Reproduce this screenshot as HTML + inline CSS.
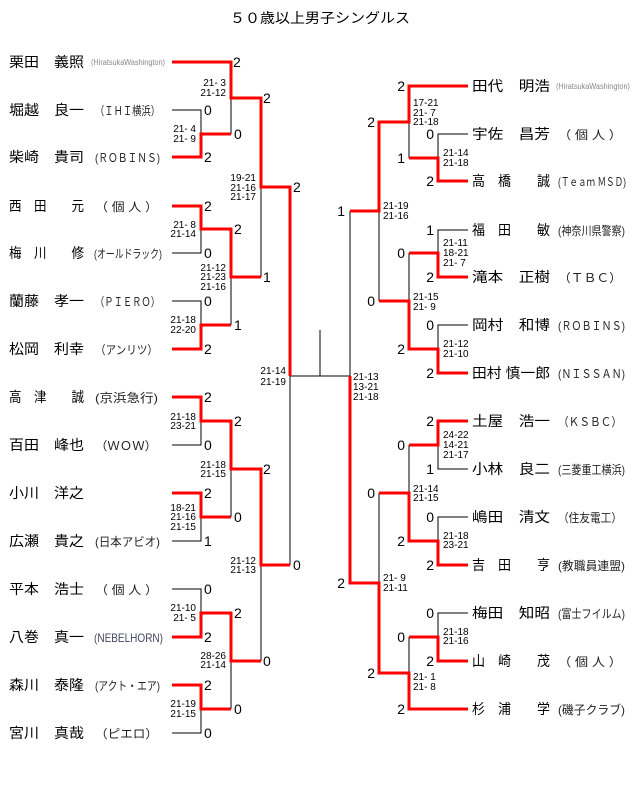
<!DOCTYPE html>
<html><head><meta charset="utf-8"><style>
html,body{margin:0;padding:0;background:#fff}
svg{display:block}
text{font-family:"Liberation Sans","Noto Sans CJK JP",sans-serif}
.n{font-size:14px;fill:#000}
.t{font-size:12px;fill:#222}
.s{font-size:10px;fill:#000}
.d{font-size:14px;fill:#000}
</style></head><body>
<svg width="640" height="793" viewBox="0 0 640 793" xmlns="http://www.w3.org/2000/svg">
<text x="230" y="23" class="n" textLength="180" lengthAdjust="spacingAndGlyphs">５０歳以上男子シングルス</text>

<g stroke="#000" stroke-width="1" fill="none">
<path d="M172 110H201V157 M172 253H201V206 M172 301H201V349 M172 445H201V397 M172 541H201V493 M172 589H201V637 M172 733H201V685"/>
<path d="M231 98V134 M231 229V325 M231 421V517 M231 613V709"/>
<path d="M261 187V277 M261 469V661"/>
<path d="M290 376V565 M290 376H350 M320 376V330"/>
<path d="M468 134H438V181 M468 230H438V277 M468 325H438V373 M468 469H438V421 M468 517H438V565 M468 613H438V661"/>
<path d="M409 122V158 M409 253V301 M409 445V493 M409 637V673"/>
<path d="M379 211V301 M379 493V583"/>
<path d="M350 211V376"/>
</g>

<g stroke="#f00" stroke-width="3" fill="none">
<path d="M172 62H231V98H261V187H290V376"/>
<path d="M172 157H201V134H231"/>
<path d="M172 206H201V229H231V277H261"/>
<path d="M172 349H201V325H231"/>
<path d="M172 397H201V421H231V469H261V565H290"/>
<path d="M172 493H201V517H231"/>
<path d="M172 637H201V613H231V661H261"/>
<path d="M172 685H201V709H231"/>
<path d="M468 86H409V122H379V211H350"/>
<path d="M468 181H438V158H409"/>
<path d="M468 277H438V253H409"/>
<path d="M468 373H438V349H409V301H379"/>
<path d="M468 421H438V445H409"/>
<path d="M468 565H438V541H409V493H379"/>
<path d="M468 661H438V637H409"/>
<path d="M468 709H409V673H379V583H350V376"/>
</g>

<g class="n">
<text x="9" y="67" textLength="75" lengthAdjust="spacingAndGlyphs">栗田　義照</text>
<text x="9" y="115" textLength="75" lengthAdjust="spacingAndGlyphs">堀越　良一</text>
<text x="9" y="162" textLength="75" lengthAdjust="spacingAndGlyphs">柴崎　貴司</text>
<text x="9" y="211" textLength="75" lengthAdjust="spacingAndGlyphs">西　田　　元</text>
<text x="9" y="258" textLength="75" lengthAdjust="spacingAndGlyphs">梅　川　　修</text>
<text x="9" y="306" textLength="75" lengthAdjust="spacingAndGlyphs">蘭藤　孝一</text>
<text x="9" y="354" textLength="75" lengthAdjust="spacingAndGlyphs">松岡　利幸</text>
<text x="9" y="402" textLength="75" lengthAdjust="spacingAndGlyphs">高　津　　誠</text>
<text x="9" y="450" textLength="75" lengthAdjust="spacingAndGlyphs">百田　峰也</text>
<text x="9" y="498" textLength="75" lengthAdjust="spacingAndGlyphs">小川　洋之</text>
<text x="9" y="546" textLength="75" lengthAdjust="spacingAndGlyphs">広瀬　貴之</text>
<text x="9" y="594" textLength="75" lengthAdjust="spacingAndGlyphs">平本　浩士</text>
<text x="9" y="642" textLength="75" lengthAdjust="spacingAndGlyphs">八巻　真一</text>
<text x="9" y="690" textLength="75" lengthAdjust="spacingAndGlyphs">森川　泰隆</text>
<text x="9" y="738" textLength="75" lengthAdjust="spacingAndGlyphs">宮川　真哉</text>
</g>
<g class="t">
<text x="91" y="65" style="font-size:8px;fill:#888" textLength="74" lengthAdjust="spacingAndGlyphs">(HiratsukaWashington)</text>
<text x="95" y="115" textLength="65" lengthAdjust="spacingAndGlyphs">（ＩＨＩ横浜）</text>
<text x="95" y="162" textLength="65" lengthAdjust="spacingAndGlyphs">(ＲＯＢＩＮＳ)</text>
<text x="95" y="211" textLength="63" lengthAdjust="spacingAndGlyphs">（ 個 人 ）</text>
<text x="94" y="258" textLength="68" lengthAdjust="spacingAndGlyphs">(オールドラック)</text>
<text x="95" y="306" textLength="65" lengthAdjust="spacingAndGlyphs">（ＰＩＥＲＯ）</text>
<text x="95" y="354" textLength="63" lengthAdjust="spacingAndGlyphs">（アンリツ）</text>
<text x="95" y="402" textLength="63" lengthAdjust="spacingAndGlyphs">(京浜急行)</text>
<text x="95" y="450" textLength="62" lengthAdjust="spacingAndGlyphs">（ＷＯＷ）</text>
<text x="95" y="546" textLength="65" lengthAdjust="spacingAndGlyphs">(日本アビオ)</text>
<text x="95" y="594" textLength="63" lengthAdjust="spacingAndGlyphs">（ 個 人 ）</text>
<text x="94" y="642" style="fill:#446" textLength="69" lengthAdjust="spacingAndGlyphs">(NEBELHORN)</text>
<text x="95" y="690" textLength="65" lengthAdjust="spacingAndGlyphs">(アクト・エア)</text>
<text x="95" y="738" textLength="63" lengthAdjust="spacingAndGlyphs">（ピエロ）</text>
</g>

<g class="n">
<text x="472" y="91" textLength="78" lengthAdjust="spacingAndGlyphs">田代　明浩</text>
<text x="472" y="139" textLength="78" lengthAdjust="spacingAndGlyphs">宇佐　昌芳</text>
<text x="472" y="186" textLength="78" lengthAdjust="spacingAndGlyphs">高　橋　　誠</text>
<text x="472" y="235" textLength="78" lengthAdjust="spacingAndGlyphs">福　田　　敏</text>
<text x="472" y="282" textLength="78" lengthAdjust="spacingAndGlyphs">滝本　正樹</text>
<text x="472" y="330" textLength="78" lengthAdjust="spacingAndGlyphs">岡村　和博</text>
<text x="472" y="378" textLength="78" lengthAdjust="spacingAndGlyphs">田村 慎一郎</text>
<text x="472" y="426" textLength="78" lengthAdjust="spacingAndGlyphs">土屋　浩一</text>
<text x="472" y="474" textLength="78" lengthAdjust="spacingAndGlyphs">小林　良二</text>
<text x="472" y="522" textLength="78" lengthAdjust="spacingAndGlyphs">嶋田　清文</text>
<text x="472" y="570" textLength="78" lengthAdjust="spacingAndGlyphs">吉　田　　亨</text>
<text x="472" y="618" textLength="78" lengthAdjust="spacingAndGlyphs">梅田　知昭</text>
<text x="472" y="666" textLength="78" lengthAdjust="spacingAndGlyphs">山　崎　　茂</text>
<text x="472" y="714" textLength="78" lengthAdjust="spacingAndGlyphs">杉　浦　　学</text>
</g>
<g class="t">
<text x="556" y="89" style="font-size:8px;fill:#888" textLength="74" lengthAdjust="spacingAndGlyphs">(HiratsukaWashington)</text>
<text x="558" y="139" textLength="64" lengthAdjust="spacingAndGlyphs">（ 個 人 ）</text>
<text x="558" y="186" textLength="68" lengthAdjust="spacingAndGlyphs">(Ｔｅａｍ ＭＳＤ)</text>
<text x="558" y="235" textLength="67" lengthAdjust="spacingAndGlyphs">(神奈川県警察)</text>
<text x="558" y="282" textLength="64" lengthAdjust="spacingAndGlyphs">（ＴＢＣ）</text>
<text x="558" y="330" textLength="67" lengthAdjust="spacingAndGlyphs">(ＲＯＢＩＮＳ)</text>
<text x="558" y="378" textLength="67" lengthAdjust="spacingAndGlyphs">(ＮＩＳＳＡＮ)</text>
<text x="558" y="426" textLength="64" lengthAdjust="spacingAndGlyphs">（ＫＳＢＣ）</text>
<text x="558" y="474" textLength="67" lengthAdjust="spacingAndGlyphs">(三菱重工横浜)</text>
<text x="558" y="522" textLength="64" lengthAdjust="spacingAndGlyphs">（住友電工）</text>
<text x="558" y="570" textLength="67" lengthAdjust="spacingAndGlyphs">(教職員連盟)</text>
<text x="558" y="618" textLength="67" lengthAdjust="spacingAndGlyphs">(富士フイルム)</text>
<text x="558" y="666" textLength="64" lengthAdjust="spacingAndGlyphs">（ 個 人 ）</text>
<text x="558" y="714" textLength="67" lengthAdjust="spacingAndGlyphs">(磯子クラブ)</text>
</g>

<g class="d">
<text x="233" y="67">2</text>
<text x="204" y="115">0</text><text x="204" y="162">2</text><text x="234" y="139">0</text>
<text x="263" y="103">2</text>
<text x="204" y="211">2</text><text x="204" y="258">0</text><text x="234" y="234">2</text>
<text x="204" y="306">0</text><text x="204" y="354">2</text><text x="234" y="330">1</text>
<text x="263" y="282">1</text><text x="293" y="192">2</text>
<text x="204" y="402">2</text><text x="204" y="450">0</text><text x="234" y="426">2</text>
<text x="204" y="498">2</text><text x="204" y="546">1</text><text x="234" y="522">0</text>
<text x="263" y="474">2</text>
<text x="204" y="594">0</text><text x="204" y="642">2</text><text x="234" y="618">2</text>
<text x="204" y="690">2</text><text x="204" y="738">0</text><text x="234" y="714">0</text>
<text x="263" y="666">0</text><text x="293" y="570">0</text>
</g>
<g class="d" text-anchor="end">
<text x="434" y="139">0</text><text x="434" y="186">2</text><text x="434" y="235">1</text><text x="434" y="282">2</text>
<text x="434" y="330">0</text><text x="434" y="378">2</text><text x="434" y="426">2</text><text x="434" y="474">1</text>
<text x="434" y="522">0</text><text x="434" y="570">2</text><text x="434" y="618">0</text><text x="434" y="666">2</text>
<text x="405" y="91">2</text><text x="405" y="163">1</text><text x="405" y="258">0</text><text x="405" y="354">2</text>
<text x="405" y="450">0</text><text x="405" y="546">2</text><text x="405" y="642">0</text><text x="405" y="714">2</text>
<text x="375" y="127">2</text><text x="375" y="306">0</text><text x="375" y="498">0</text><text x="375" y="678">2</text>
<text x="345" y="216">1</text><text x="345" y="588">2</text>
</g>

<g class="s" text-anchor="end">
<text x="226" y="86">21- 3</text><text x="226" y="96">21-12</text>
<text x="196" y="132">21- 4</text><text x="196" y="142">21- 9</text>
<text x="256" y="181">19-21</text><text x="256" y="191">21-16</text><text x="256" y="200">21-17</text>
<text x="196" y="228">21- 8</text><text x="196" y="237">21-14</text>
<text x="226" y="271">21-12</text><text x="226" y="280">21-23</text><text x="226" y="290">21-16</text>
<text x="196" y="323">21-18</text><text x="196" y="333">22-20</text>
<text x="286" y="374">21-14</text><text x="286" y="385">21-19</text>
<text x="196" y="420">21-18</text><text x="196" y="429">23-21</text>
<text x="226" y="468">21-18</text><text x="226" y="477">21-15</text>
<text x="196" y="511">18-21</text><text x="196" y="520">21-16</text><text x="196" y="530">21-15</text>
<text x="256" y="564">21-12</text><text x="256" y="573">21-13</text>
<text x="196" y="611">21-10</text><text x="196" y="621">21- 5</text>
<text x="226" y="659">28-26</text><text x="226" y="668">21-14</text>
<text x="196" y="707">21-19</text><text x="196" y="717">21-15</text>
</g>
<g class="s">
<text x="413" y="106">17-21</text><text x="413" y="116">21- 7</text><text x="413" y="125">21-18</text>
<text x="443" y="156">21-14</text><text x="443" y="166">21-18</text>
<text x="383" y="209">21-19</text><text x="383" y="219">21-16</text>
<text x="443" y="246">21-11</text><text x="443" y="256">18-21</text><text x="443" y="266">21- 7</text>
<text x="413" y="300">21-15</text><text x="413" y="310">21- 9</text>
<text x="443" y="347">21-12</text><text x="443" y="357">21-10</text>
<text x="353" y="380">21-13</text><text x="353" y="390">13-21</text><text x="353" y="400">21-18</text>
<text x="443" y="438">24-22</text><text x="443" y="448">14-21</text><text x="443" y="458">21-17</text>
<text x="413" y="492">21-14</text><text x="413" y="501">21-15</text>
<text x="443" y="539">21-18</text><text x="443" y="548">23-21</text>
<text x="383" y="581">21- 9</text><text x="383" y="591">21-11</text>
<text x="443" y="635">21-18</text><text x="443" y="644">21-16</text>
<text x="413" y="680">21- 1</text><text x="413" y="690">21- 8</text>
</g>
</svg>
</body></html>
